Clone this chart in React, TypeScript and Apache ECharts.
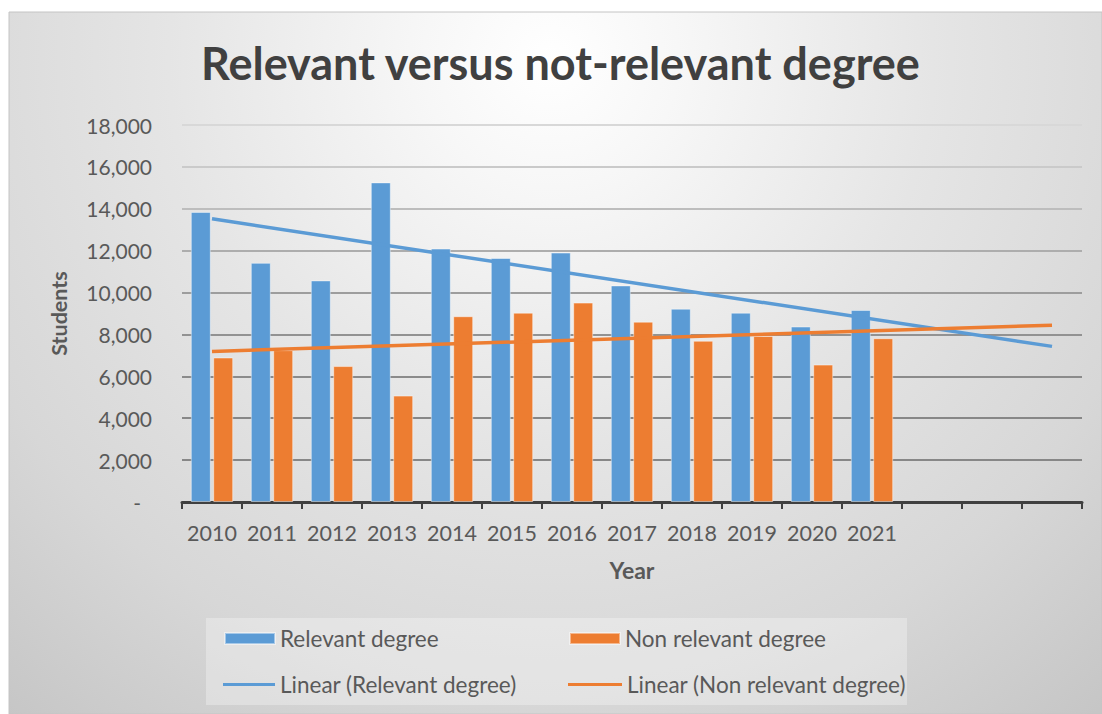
import React, { useEffect, useRef } from "react";
import * as echarts from "echarts";

const years = ["2010", "2011", "2012", "2013", "2014", "2015", "2016", "2017", "2018", "2019", "2020", "2021", "", "", ""];
const relevant = [13850, 11420, 10580, 15260, 12100, 11650, 11910, 10340, 9230, 9040, 8380, 9170];
const nonRelevant = [6900, 7250, 6490, 5080, 8870, 9040, 9520, 8610, 7700, 7930, 6560, 7820];
// trendline end points (first year, last forecast slot)
const relevantTrend = [[0, 13520], [14, 7430]];
const nonRelevantTrend = [[0, 7190], [14, 8440]];
const gridColors = ["#808080", "#878787", "#878787", "#8b8b8b", "#929292", "#9d9d9d", "#adadad", "#bdbdbd", "#cacaca", "#d8d8d8"];

const FONT = "Lato, 'Open Sans', sans-serif";
const TXT = "#595959";
const BLUE = "#5b9bd5";
const ORANGE = "#ed7d31";

export default function App() {
  const ref = useRef<HTMLDivElement>(null);
  useEffect(() => {
    const chart = echarts.init(ref.current!, null, { renderer: "svg" });
    const legendText = { color: TXT, fontSize: 22.5, fontFamily: FONT };
    chart.setOption({
      animation: false,
      textStyle: { fontFamily: FONT },
      title: {
        text: "Relevant versus not-relevant degree",
        left: 201,
        top: 40,
        padding: 0,
        textStyle: { fontSize: 45, fontWeight: "bold", color: "#404040", fontFamily: FONT },
      },
      graphic: [
        {
          type: "rect",
          z: -10,
          silent: true,
          shape: { x: 9, y: 12, width: 1093, height: 702 },
          style: {
            fill: new echarts.graphic.RadialGradient(551, 60, 850, [
              { offset: 0, color: "#ffffff" },
              { offset: 0.15, color: "#f7f7f7" },
              { offset: 0.45, color: "#e5e5e5" },
              { offset: 0.75, color: "#d7d7d7" },
              { offset: 1, color: "#c6c6c6" },
            ], true),
            stroke: "#c4c4c4",
            lineWidth: 1,
          },
        },
        {
          type: "rect",
          z: -9,
          silent: true,
          shape: { x: 206, y: 618, width: 701, height: 87 },
          style: { fill: "rgba(255,255,255,0.3)" },
        },
      ],
      grid: { left: 182, right: 20, top: 125, bottom: 212 },
      legend: [
        { left: 224, top: 627, itemWidth: 50, itemHeight: 11, itemGap: 6, padding: 0, textStyle: legendText, data: [{ name: "Relevant degree", icon: "rect" }] },
        { left: 569, top: 627, itemWidth: 50, itemHeight: 11, itemGap: 6, padding: 0, textStyle: legendText, data: [{ name: "Non relevant degree", icon: "rect" }] },
        { left: 223, top: 673, itemWidth: 52, itemHeight: 3, itemGap: 6, padding: 0, textStyle: legendText, data: [{ name: "Linear (Relevant degree)", icon: "rect" }] },
        { left: 568, top: 673, itemWidth: 54, itemHeight: 3, itemGap: 3, padding: 0, textStyle: legendText, data: [{ name: "Linear (Non relevant degree)", icon: "rect" }] },
      ],
      xAxis: {
        type: "category",
        data: years,
        name: "Year",
        nameLocation: "middle",
        nameGap: 56,
        nameTextStyle: { fontSize: 23, fontWeight: "bold", color: TXT, fontFamily: FONT },
        axisLine: { lineStyle: { color: "#404040", width: 3 } },
        axisTick: { show: true, length: 7, lineStyle: { color: "#404040", width: 2 } },
        axisLabel: { color: TXT, fontSize: 21.5, margin: 20, interval: 0, fontFamily: FONT },
      },
      yAxis: {
        type: "value",
        min: 0,
        max: 18000,
        interval: 2000,
        name: "Students",
        nameLocation: "middle",
        nameGap: 112,
        nameTextStyle: { fontSize: 21.5, fontWeight: "bold", color: TXT, fontFamily: FONT },
        axisLine: { show: false },
        axisTick: { show: false },
        axisLabel: {
          color: TXT,
          fontSize: 21,
          margin: 30,
          fontFamily: FONT,
          formatter: (v: number) => (v === 0 ? "{d|-}" : v.toLocaleString("en-US")),
          rich: { d: { color: TXT, fontSize: 21, fontFamily: FONT, padding: [0, 11, 0, 0] } },
        },
        splitLine: { lineStyle: { color: gridColors, width: 2 } },
      },
      series: [
        {
          name: "Relevant degree",
          type: "bar",
          data: relevant,
          barWidth: 20,
          barGap: "12%",
          itemStyle: { color: BLUE, borderColor: "rgba(255,255,255,0.45)", borderWidth: 1 },
        },
        {
          name: "Non relevant degree",
          type: "bar",
          data: nonRelevant,
          barWidth: 20,
          barGap: "12%",
          itemStyle: { color: ORANGE, borderColor: "rgba(255,255,255,0.45)", borderWidth: 1 },
        },
        {
          name: "Linear (Relevant degree)",
          type: "line",
          data: relevantTrend,
          showSymbol: false,
          symbol: "none",
          lineStyle: { color: BLUE, width: 3.5 },
          itemStyle: { color: BLUE },
          z: 5,
        },
        {
          name: "Linear (Non relevant degree)",
          type: "line",
          data: nonRelevantTrend,
          showSymbol: false,
          symbol: "none",
          lineStyle: { color: ORANGE, width: 3.5 },
          itemStyle: { color: ORANGE },
          z: 5,
        },
      ],
    });
    return () => chart.dispose();
  }, []);
  return <div ref={ref} style={{ position: "absolute", left: 0, top: 0, width: 1102, height: 714 }} />;
}
